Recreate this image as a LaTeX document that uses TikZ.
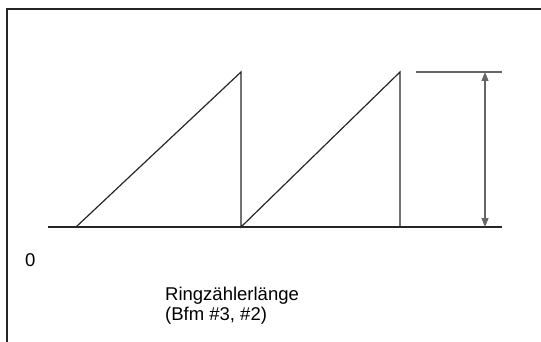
\documentclass[tikz,border=0pt]{standalone}
\usepackage{fontspec}
\setmainfont{Liberation Sans}
\usetikzlibrary{arrows.meta}
\begin{document}
\begin{tikzpicture}[x=1pt, y=-1pt,
    frame/.style={line width=1.6pt, black!85},
    axisline/.style={line width=1.2pt, black!85},
    wave/.style={line width=1.2pt, black!85},
    dimline/.style={line width=1.2pt, black!60},
    dimarrow/.style={{Triangle[length=9pt,width=7pt]}-{Triangle[length=9pt,width=7pt]}, line width=1.2pt, black!60},
    label/.style={font=\fontsize{18.5}{22}\selectfont, inner sep=0pt, anchor=base west}
]
    \useasboundingbox (0,0) rectangle (541,342);

    % Frame
    \coordinate (fbl) at (7,342);
    \coordinate (ftl) at (7,9);
    \coordinate (ftr) at (541,9);
    \draw[frame] (fbl) -- (ftl) -- (ftr);

    % Zero line
    \coordinate (base0) at (48,227);
    \coordinate (base1) at (502,227);
    \draw[axisline] (base0) -- (base1);

    % Sawtooth
    \coordinate (start1) at (76,227);
    \coordinate (peak1) at (241,72);
    \coordinate (start2) at (241,227);
    \coordinate (peak2) at (400,72);
    \coordinate (end2) at (400,227);
    \draw[wave] (start1) -- (peak1) -- (start2) -- (peak2) -- (end2);

    % Amplitude
    \coordinate (top0) at (416,72);
    \coordinate (top1) at (502,72);
    \draw[dimline] (top0) -- (top1);
    \coordinate (amp0) at (485,72);
    \coordinate (amp1) at (485,227);
    \draw[dimarrow] (amp0) -- (amp1);

    % Labels
    \node[label] (zero) at (25,266) {0};
    \node[label] (ringlen) at (165,300) {Ringzählerlänge};
    \node[label] (bfm) at (165,320) {(Bfm \#3, \#2)};

\end{tikzpicture}
\end{document}
